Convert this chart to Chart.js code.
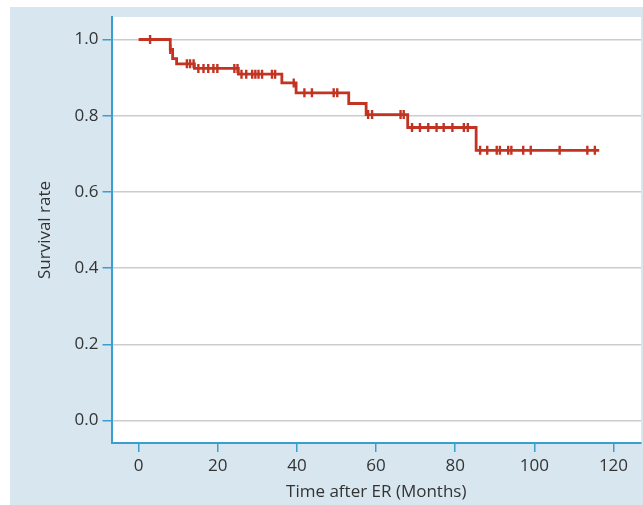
<!DOCTYPE html>
<html>
<head>
<meta charset="utf-8">
<script src="https://cdn.jsdelivr.net/npm/chart.js@4/dist/chart.umd.min.js"></script>
<style>
  html, body { margin: 0; padding: 0; background: #ffffff; }
  #wrap { position: relative; width: 643px; height: 505px; }
</style>
</head>
<body>
<div id="wrap"><canvas id="km" width="643" height="505"></canvas></div>
<script>
// Kaplan-Meier steps (time in months, survival after the event)
const eventTimes = [0, 8.0, 8.6, 9.6, 14.1, 25.2, 36.2, 39.8, 53.1, 57.5, 68.0, 85.3, 116.4];
const eventSurv = [1.0, 0.974, 0.95, 0.936, 0.924, 0.909, 0.886, 0.86, 0.832, 0.803, 0.769, 0.709, 0.709];

// censored observations
const censorTimes = [
  2.9, 8.0,
  12.2, 13.0, 13.9,
  15.1, 16.4, 17.6, 18.9, 19.9, 24.2, 25.0,
  26.0, 27.2, 28.7, 29.5, 30.3, 31.2, 33.7, 34.5,
  39.2,
  41.9, 43.8, 49.3, 50.2,
  58.0, 59.0, 66.2, 67.0,
  69.1, 71.1, 73.2, 75.3, 77.1, 79.3, 82.2, 83.2,
  86.3, 88.1, 90.5, 91.3, 93.4, 94.2, 97.2, 99.1, 106.4, 113.4, 115.3
];
const censorSurv = [
  1.0, 0.974,
  0.936, 0.936, 0.936,
  0.924, 0.924, 0.924, 0.924, 0.924, 0.924, 0.924,
  0.909, 0.909, 0.909, 0.909, 0.909, 0.909, 0.909, 0.909,
  0.886,
  0.86, 0.86, 0.86, 0.86,
  0.803, 0.803, 0.803, 0.803,
  0.769, 0.769, 0.769, 0.769, 0.769, 0.769, 0.769, 0.769,
  0.709, 0.709, 0.709, 0.709, 0.709, 0.709, 0.709, 0.709, 0.709, 0.709, 0.709
];

const xTicks = [0, 20, 40, 60, 80, 100, 120];
const yTicks = [0.0, 0.2, 0.4, 0.6, 0.8, 1.0];

const RED = '#c23321';
const AXIS_BLUE = '#3a9fd0';
const PANEL = '#d7e6ef';
const FONT = { family: '"Open Sans", "Noto Sans", sans-serif', size: 17 };

// light blue panel behind, white plot area
const panelBg = {
  id: 'panelBg',
  beforeDraw(chart) {
    const { ctx, chartArea: a } = chart;
    ctx.save();
    ctx.fillStyle = PANEL;
    ctx.fillRect(10, 7, chart.width - 10, chart.height - 7);
    ctx.fillStyle = '#ffffff';
    ctx.fillRect(a.left, a.top, a.right - a.left, a.bottom - a.top);
    ctx.restore();
  }
};

new Chart(document.getElementById('km'), {
  type: 'scatter',
  data: {
    datasets: [
      {
        type: 'line',
        data: eventTimes.map((t, i) => ({ x: t, y: eventSurv[i] })),
        borderColor: RED,
        borderWidth: 2.8,
        stepped: 'before',
        pointRadius: 0,
        fill: false,
      },
      {
        data: censorTimes.map((t, i) => ({ x: t, y: censorSurv[i] })),
        pointStyle: 'line',
        rotation: 90,
        radius: 4.5,
        borderColor: RED,
        borderWidth: 2.4,
        backgroundColor: RED,
      },
    ],
  },
  options: {
    responsive: false,
    animation: false,
    devicePixelRatio: 1,
    layout: { autoPadding: false, padding: { left: 10, top: 17, right: 2, bottom: 0 } },
    plugins: {
      legend: { display: false },
      tooltip: { enabled: false },
    },
    scales: {
      x: {
        type: 'linear',
        min: -6.85,
        max: 126.96,
        afterFit: (s) => { s.height = 62; s.paddingLeft = 0; s.paddingRight = 0; },
        afterBuildTicks: (s) => { s.ticks = xTicks.map((v) => ({ value: v })); },
        grid: { drawOnChartArea: false, tickColor: AXIS_BLUE, tickLength: 9, lineWidth: 1.5 },
        border: { display: true, color: AXIS_BLUE, width: 2 },
        ticks: { color: '#333333', font: FONT, padding: 4, maxRotation: 0 },
        title: { display: true, text: 'Time after ER (Months)', color: '#333333', font: FONT, padding: { top: 0, bottom: 3 } },
      },
      y: {
        type: 'linear',
        min: -0.059,
        max: 1.059,
        afterFit: (s) => { s.width = 101.5; },
        afterBuildTicks: (s) => { s.ticks = yTicks.map((v) => ({ value: v })); },
        grid: { color: '#cccccc', tickColor: AXIS_BLUE, tickLength: 9, lineWidth: 1.5 },
        border: { display: true, color: AXIS_BLUE, width: 2 },
        ticks: { color: '#333333', font: FONT, padding: 4, callback: (v) => v.toFixed(1) },
        title: { display: true, text: 'Survival rate', color: '#333333', font: FONT, padding: { top: 25, bottom: 0 } },
      },
    },
  },
  plugins: [panelBg],
});
</script>
</body>
</html>
